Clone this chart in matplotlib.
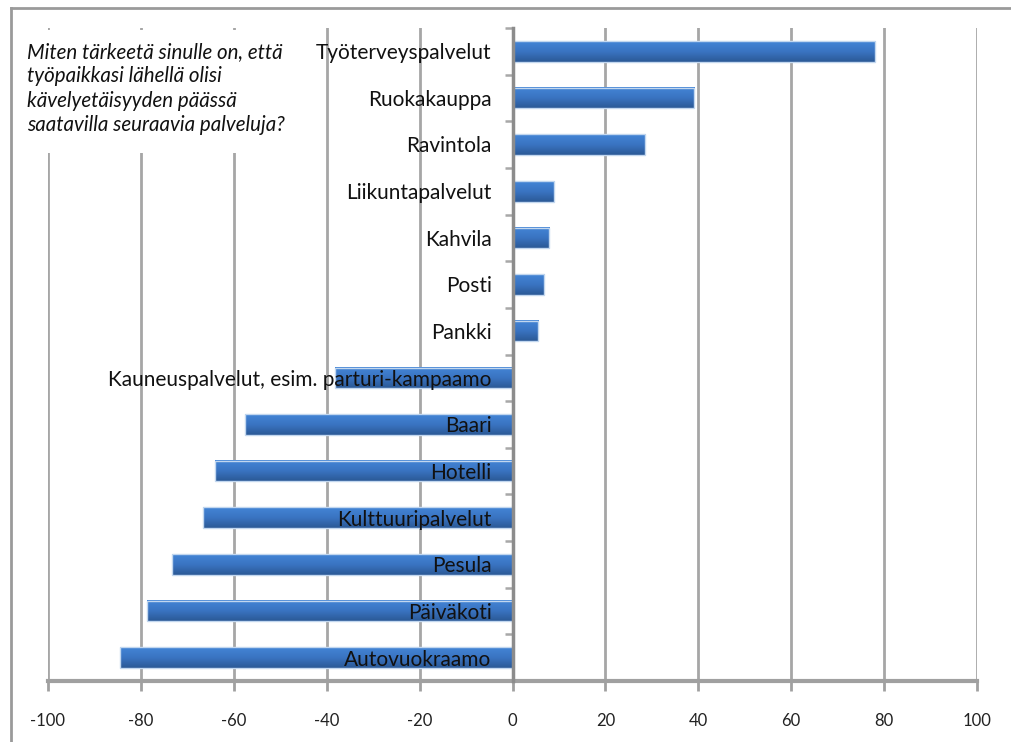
import numpy as np
import matplotlib

matplotlib.use("Agg")
import matplotlib.pyplot as plt
from matplotlib.colors import LinearSegmentedColormap
from matplotlib.lines import Line2D
from matplotlib.patches import Rectangle

plt.rcParams["font.family"] = ["Lato", "DejaVu Sans"]

services = [
    "Työterveyspalvelut",
    "Ruokakauppa",
    "Ravintola",
    "Liikuntapalvelut",
    "Kahvila",
    "Posti",
    "Pankki",
    "Kauneuspalvelut, esim. parturi-kampaamo",
    "Baari",
    "Hotelli",
    "Kulttuuripalvelut",
    "Pesula",
    "Päiväkoti",
    "Autovuokraamo",
]
scores = [78, 39, 28.5, 9, 7.8, 6.7, 5.4, -38.2, -57.5, -64, -66.7, -73.2, -78.6, -84.4]
x_ticks = [-100, -80, -60, -40, -20, 0, 20, 40, 60, 80, 100]
question = ("Miten tärkeetä sinulle on, että\n"
            "työpaikkasi lähellä olisi\n"
            "kävelyetäisyyden päässä\n"
            "saatavilla seuraavia palveluja?")

W, H = 1011, 742
fig = plt.figure(figsize=(W / 100, H / 100), dpi=100)
ax = fig.add_axes([48 / W, (H - 681) / H, (977 - 48) / W, (681 - 28) / H])

grad_cmap = LinearSegmentedColormap.from_list(
    "bar", ["#4385d6", "#3a74c2", "#2b5996"])
grad = np.linspace(0, 1, 64).reshape(-1, 1)

bar_h = 0.44
pos = np.arange(len(services))
for i, v in zip(pos, scores):
    ax.imshow(grad, cmap=grad_cmap, aspect="auto", origin="upper",
              extent=(0, v, i + bar_h / 2, i - bar_h / 2), zorder=2,
              interpolation="bilinear")
ax.barh(pos, scores, height=bar_h, facecolor="none",
        edgecolor="#c2d7ef", linewidth=1.0, zorder=3)

# category names sit just left of the zero line, over the bars
for i, name in zip(pos, services):
    ax.text(-4.5, i + 0.04, name, ha="right", va="center", fontsize=15,
            color="#111111", zorder=5)

ax.set_xlim(-100, 100)
ax.set_ylim(len(services) - 0.5, -0.5)
ax.set_xticks(x_ticks)
ax.set_xticklabels([str(t) for t in x_ticks], fontsize=12, color="#222222")
ax.set_yticks(np.arange(-0.5, len(services), 1.0))
ax.set_yticklabels([])

ax.grid(axis="x", color="#a6a6a6", linewidth=2, zorder=0)
ax.set_axisbelow(True)

for side in ("top", "right"):
    ax.spines[side].set_visible(False)
ax.spines["left"].set_position(("data", 0))
ax.spines["left"].set_color("#8c8c8c")
ax.spines["left"].set_linewidth(2.5)
ax.spines["left"].set_zorder(4)
ax.spines["bottom"].set_color("#a0a0a0")
ax.spines["bottom"].set_linewidth(3)
ax.tick_params(axis="x", direction="out", length=7, width=2, color="#a0a0a0",
               pad=16)
ax.tick_params(axis="y", direction="out", length=6, width=1.8, color="#a8a8a8")

# white text box holding the survey question
fig.patches.append(Rectangle((20 / W, (H - 153) / H), 285 / W, 123 / H,
                             transform=fig.transFigure, facecolor="white",
                             edgecolor="none", zorder=1))
fig.text(27 / W, (H - 42) / H, question, ha="left", va="top", fontsize=14.8,
         style="italic", linespacing=1.27, color="#111111", zorder=2)

# chart area frame
fig.lines.append(Line2D([11 / W, 1], [(H - 8) / H] * 2, transform=fig.transFigure,
                        color="#9a9a9a", linewidth=2))
fig.lines.append(Line2D([11 / W] * 2, [0, (H - 8) / H], transform=fig.transFigure,
                        color="#9a9a9a", linewidth=2))

fig.savefig("out.png", dpi=100, facecolor="white")
